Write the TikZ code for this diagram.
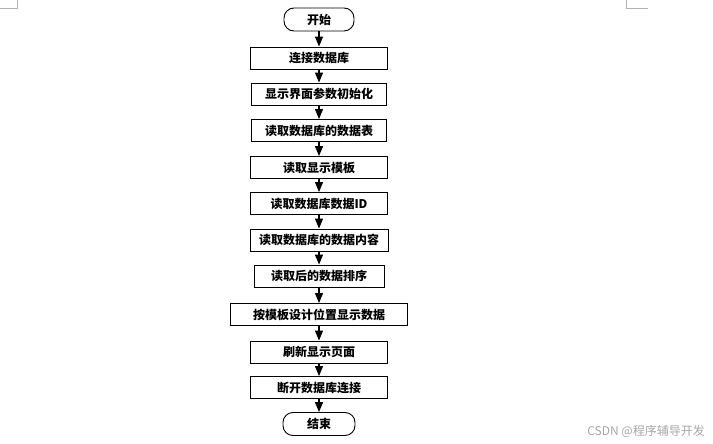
\documentclass[tikz,border=0pt]{standalone}
\usepackage{fontspec}
\newfontfamily\cjk{Noto Sans CJK SC}
\usetikzlibrary{arrows.meta}
\begin{document}
\begin{tikzpicture}[x=1pt,y=-1pt,
  box/.style={draw,line width=0.9pt,minimum height=22pt,inner sep=0pt,font=\cjk\bfseries\fontsize{12}{13}\selectfont},
  term/.style={box,rounded corners=10pt,minimum height=23pt},
  arr/.style={line width=1.1pt,-{Triangle[width=8pt,length=10pt]}},
  cornermark/.style={draw=gray!60,line width=0.6pt}]
\useasboundingbox (0,0) rectangle (713,444);
\draw[cornermark] (0,8) -- (17,8) -- (17,0);
\draw[cornermark] (626,0) -- (626,8) -- (648,8);
\node[term,minimum width=70pt] (s) at (319,19.5) {开始};
\node[box,minimum width=137pt] (b1) at (319,58) {连接数据库};
\node[box,minimum width=135pt] (b2) at (319,94) {显示界面参数初始化};
\node[box,minimum width=135pt] (b3) at (319,130.5) {读取数据库的数据表};
\node[box,minimum width=137pt] (b4) at (319,167.5) {读取显示模板};
\node[box,minimum width=137pt] (b5) at (319,203.5) {读取数据库数据ID};
\node[box,minimum width=138pt] (b6) at (319,240) {读取数据库的数据内容};
\node[box,minimum width=130pt] (b7) at (319,276) {读取后的数据排序};
\node[box,minimum width=177pt] (b8) at (319,314.5) {按模板设计位置显示数据};
\node[box,minimum width=137pt] (b9) at (319,352) {刷新显示页面};
\node[box,minimum width=137pt] (b10) at (319,387.5) {断开数据库连接};
\node[term,minimum width=72pt] (e) at (319,424) {结束};
\foreach \a/\b in {s/b1,b1/b2,b2/b3,b3/b4,b4/b5,b5/b6,b6/b7,b7/b8,b8/b9,b9/b10,b10/e}
  \draw[arr] (\a.south) -- (\b.north);
\node[anchor=east,text=gray!70,font=\cjk\fontsize{12}{13}\selectfont,inner sep=0pt] (wm) at (705,431) {CSDN @程序辅导开发};
\end{tikzpicture}
\end{document}
